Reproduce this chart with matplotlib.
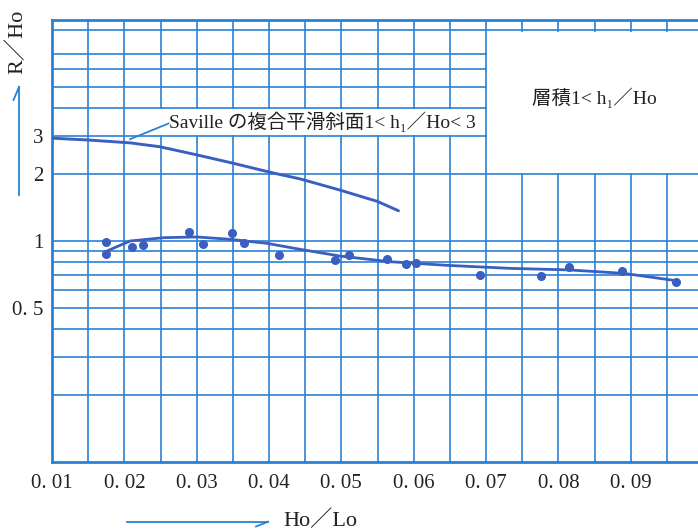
import numpy as np
import matplotlib
matplotlib.use("Agg")
import matplotlib.pyplot as plt
from matplotlib.patches import Rectangle
from matplotlib.lines import Line2D

FONTS = ["Liberation Serif", "Noto Sans CJK JP", "DejaVu Serif"]
plt.rcParams["font.family"] = FONTS

GRID = "#2a82d6"
CURVE = "#3b5fc0"
TEXT = "#222222"

# Saville composite smooth slope, 1 < h1/Ho < 3
saville_x = [0.0100, 0.0153, 0.0208, 0.0249, 0.0301, 0.0350, 0.0406, 0.0443, 0.0498, 0.0550, 0.0579]
saville_y = [2.92, 2.86, 2.78, 2.67, 2.45, 2.25, 2.03, 1.91, 1.70, 1.51, 1.37]

# measured points, layered 1 < h1/Ho
obs_x = [0.0175, 0.0175, 0.0210, 0.0226, 0.0290, 0.0309, 0.0349, 0.0365, 0.0414, 0.0491,
         0.0511, 0.0563, 0.0590, 0.0603, 0.0692, 0.0776, 0.0814, 0.0888, 0.0963]
obs_y = [0.99, 0.873, 0.942, 0.959, 1.098, 0.966, 1.09, 0.976, 0.864, 0.818,
         0.864, 0.827, 0.785, 0.798, 0.700, 0.695, 0.760, 0.732, 0.650]

# fitted curve through the measured points
fit_x = [0.0176, 0.0208, 0.0254, 0.0300, 0.0346, 0.0397, 0.0443, 0.0498, 0.0567,
         0.0646, 0.0733, 0.0814, 0.0890, 0.0959]
fit_y = [0.901, 1.0, 1.035, 1.043, 1.018, 0.976, 0.917, 0.855, 0.806,
         0.776, 0.752, 0.740, 0.714, 0.664]

x_major = [0.01, 0.02, 0.03, 0.04, 0.05, 0.06, 0.07, 0.08, 0.09]
x_labels = ["0. 01", "0. 02", "0. 03", "0. 04", "0. 05", "0. 06", "0. 07", "0. 08", "0. 09"]
x_minor = [0.015, 0.025, 0.035, 0.045, 0.055, 0.065, 0.075, 0.085, 0.095]
y_major = [0.5, 1, 2, 3]
y_labels = ["0. 5", "1", "2", "3"]
y_grid = [0.2, 0.3, 0.4, 0.5, 0.6, 0.7, 0.8, 0.9, 1, 2, 3, 4, 5, 6, 7, 9, 10]

fig = plt.figure(figsize=(6.98, 5.30), dpi=100)
ax = fig.add_axes([52 / 698, 68 / 530, 646 / 698, 442 / 530])
ax.set_yscale("log")
ax.set_xlim(0.01, 0.0993)
ax.set_ylim(0.1, 10)

# grid lines drawn by hand (the 8 line is missing on the original)
for gy in y_grid:
    ax.axhline(gy, color=GRID, lw=1.2, zorder=0.5)
for gx in x_major + x_minor:
    ax.axvline(gx, color=GRID, lw=1.2, zorder=0.5)

# white panels that blank out the grid behind the labels
ax.add_patch(Rectangle((0.0701, 2.03), 0.05, 8.85 - 2.03, facecolor="white",
                       edgecolor="none", zorder=1))
ax.add_patch(Rectangle((0.0240, 3.03), 0.0695 - 0.0240, 3.95 - 3.03, facecolor="white",
                       edgecolor="none", zorder=1))

ax.plot(saville_x, saville_y, color=CURVE, lw=2.1, zorder=3, solid_capstyle="round")
ax.plot(fit_x, fit_y, color=CURVE, lw=2.0, zorder=3, solid_capstyle="round")
ax.plot(obs_x, obs_y, "o", color=CURVE, ms=5.5, zorder=4)

# leader line + label for Saville curve
ax.plot([0.0208, 0.0261], [2.89, 3.40], color=GRID, lw=1.3, zorder=3)
ax.text(0.0262, 3.47, "Saville の複合平滑斜面1< h₁／Ho< 3", fontsize=14, color=TEXT,
        ha="left", va="center", zorder=5)
ax.text(0.0850, 4.44, "層積1< h₁／Ho", fontsize=14, color=TEXT,
        ha="center", va="center", zorder=5)

ax.set_xticks(x_major)
ax.set_xticklabels(x_labels)
ax.set_xticks(x_minor, minor=True)
ax.set_yticks(y_major)
ax.set_yticklabels(y_labels)
ax.set_yticks([], minor=True)
ax.tick_params(axis="both", which="both", length=0, labelsize=15, colors=TEXT)
ax.tick_params(axis="x", pad=9)
ax.tick_params(axis="y", pad=6)

for side in ["left", "bottom", "top"]:
    ax.spines[side].set_color(GRID)
    ax.spines[side].set_linewidth(2.0)
ax.spines["right"].set_visible(False)

# axis titles with hand-drawn half arrows
fig.text(17 / 698, 1 - 42 / 530, "R／Ho", rotation=90, fontsize=16, color=TEXT,
         ha="center", va="center")
fig.add_artist(Line2D([19 / 698, 19 / 698], [1 - 195 / 530, 1 - 87 / 530], color=GRID, lw=1.3))
fig.add_artist(Line2D([19 / 698, 13.5 / 698], [1 - 87 / 530, 1 - 100 / 530], color=GRID, lw=1.3))

fig.text(283 / 698, 1 - 521 / 530, "Ho／Lo", fontsize=16, color=TEXT, ha="left", va="center")
fig.add_artist(Line2D([127 / 698, 268 / 698], [1 - 521.7 / 530, 1 - 521.7 / 530], color=GRID, lw=1.3))
fig.add_artist(Line2D([268 / 698, 256 / 698], [1 - 521.7 / 530, 1 - 526.5 / 530], color=GRID, lw=1.3))

fig.savefig("out.png", dpi=100)
